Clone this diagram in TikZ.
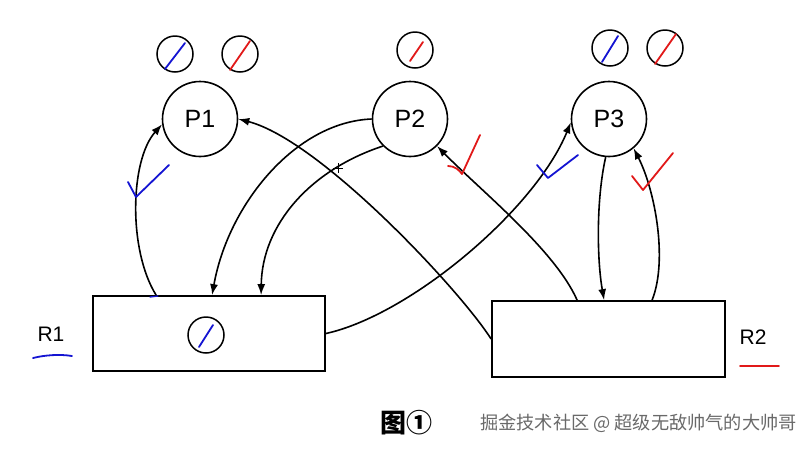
\documentclass[tikz,border=0pt]{standalone}
\usepackage{fontspec}
\setmainfont{Liberation Sans}
\newfontfamily\cjkfont{Noto Sans CJK SC}
\usetikzlibrary{arrows.meta,calc}
\definecolor{penblue}{RGB}{20,20,210}
\definecolor{penred}{RGB}{225,25,25}
\definecolor{wmgray}{RGB}{105,105,105}
\tikzset{
  proc/.style={circle,draw,line width=1.6pt,minimum size=75pt,inner sep=0pt,font=\fontsize{25}{25}\selectfont},
  res/.style={rectangle,draw,line width=1.8pt,inner sep=0pt},
  mini/.style={circle,draw,line width=1.5pt,minimum size=36pt,inner sep=0pt},
  conn/.style={line width=1.6pt,-{Latex[length=11pt,width=8pt]}},
  bluepen/.style={penblue,line width=1.8pt,line cap=round,line join=round},
  redpen/.style={penred,line width=1.8pt,line cap=round,line join=round},
  rlabel/.style={font=\fontsize{21}{21}\selectfont},
}
\begin{document}
\begin{tikzpicture}[x=1pt,y=-1pt]
\useasboundingbox (0,0) rectangle (810,448);
% process circles
\node[proc] (P1) at (200,119) {P1};
\node[proc] (P2) at (410,119) {P2};
\node[proc] (P3) at (609,119) {P3};
% resource rectangles
\node[res,minimum width=232pt,minimum height=75pt] (R1) at (209,333.5) {};
\node[res,minimum width=233pt,minimum height=76pt] (R2) at (608.5,339) {};
% small instance circles
\node[mini] (a1) at (175,54) {};
\node[mini] (a2) at (240,54) {};
\node[mini] (b1) at (415,50) {};
\node[mini] (c1) at (610,48) {};
\node[mini] (c2) at (665,48) {};
\node[mini] (r1) at (206,335) {};
\draw[bluepen] ($(a1.center)+(-10,15)$) -- ($(a1.center)+(10,-11)$);
\draw[redpen] ($(a2.center)+(-10,16)$) -- ($(a2.center)+(10,-13)$);
\draw[redpen] ($(b1.center)+(-5,11)$) -- ($(b1.center)+(8,-8)$);
\draw[bluepen] ($(c1.center)+(-8,14)$) -- ($(c1.center)+(8,-12)$);
\draw[redpen] ($(c2.center)+(-10,16)$) -- ($(c2.center)+(11,-14)$);
\draw[bluepen] ($(r1.center)+(-7,12)$) -- ($(r1.center)+(7,-10)$);
% anchor points on rectangles
\coordinate (r1a) at ($(R1.north west)+(64,0)$);
\coordinate (r1b) at ($(R1.north west)+(120,0)$);
\coordinate (r1c) at ($(R1.north west)+(169,0)$);
\coordinate (r2a) at ($(R2.north west)+(86,0)$);
\coordinate (r2b) at ($(R2.north west)+(113,0)$);
\coordinate (r2c) at ($(R2.north west)+(161,0)$);
% connectors
\draw[conn] (r1a) .. controls (128,250) and (130,160) .. (P1.188);
\draw[conn] (P2.west) .. controls (295,122) and (228,205) .. (r1b);
\draw[conn] (P2.225) .. controls (310,170) and (262,225) .. (r1c);
\draw[conn] (R2.west) .. controls (460,290) and (320,140) .. (P1.east);
\draw[conn] (r2a) .. controls (555,250) and (480,190) .. (P2.-45);
\draw[conn] (R1.east) .. controls (410,315) and (535,210) .. (P3.185);
\draw[conn] (P3.265) .. controls (596,200) and (597,260) .. (r2b);
\draw[conn] (r2c) .. controls (668,260) and (655,190) .. (P3.-50);
% small cross mark
\coordinate (xm) at (338,168);
\draw[line width=0.7pt] ($(xm)+(-5,0)$) -- ($(xm)+(5,0)$) ($(xm)+(0,-5)$) -- ($(xm)+(0,5)$);
% check marks
\draw[bluepen] (128,182) -- (136,197) -- (169,165);
\draw[redpen] (448,166) .. controls (455,166) and (459,170) .. (462,174) -- (480,135);
\draw[bluepen] (537,165) -- (548,178) -- (578,155);
\draw[redpen] (632,176) -- (643,190) -- (673,153);
\draw[bluepen,line width=1.3pt] (150,297) -- (158,296);
% labels
\node[rlabel] (L1) at (51,334) {R1};
\node[rlabel] (L2) at (753,337) {R2};
\draw[bluepen] (33,358) .. controls (45,355) and (60,354) .. (72,356);
\draw[redpen] (740,366) -- (779,366);
% caption
\node[font=\cjkfont\fontsize{26}{26}\selectfont\bfseries] (cap) at (406,423) {图①};
\node[anchor=west,text=wmgray,font=\cjkfont\fontsize{18.2}{19}\selectfont,inner sep=0pt] (wm) at (480,423) {掘金技术社区 @ 超级无敌帅气的大帅哥};
\end{tikzpicture}
\end{document}
